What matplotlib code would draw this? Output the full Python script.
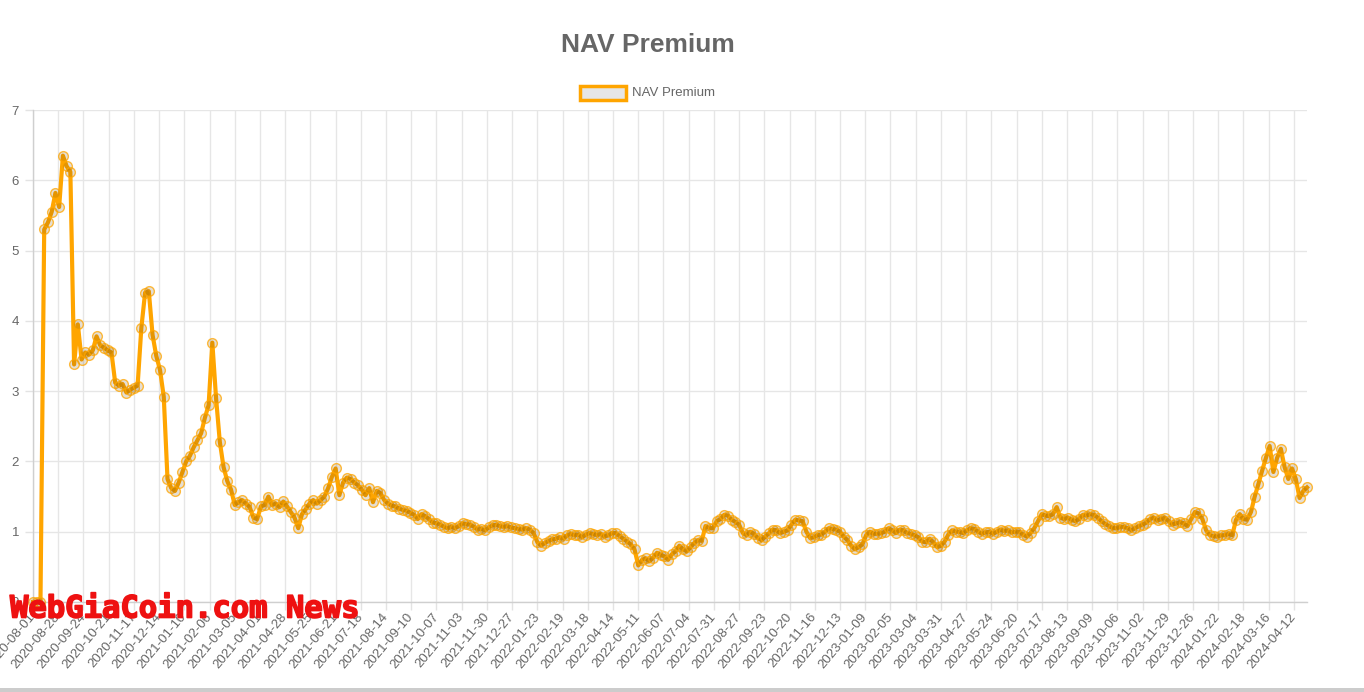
import matplotlib
matplotlib.use('Agg')
import matplotlib.pyplot as plt
import matplotlib.patheffects as pe
import pandas as pd
from matplotlib.patches import Rectangle

# ---------------- data ----------------
start_date = '2020-08-01'
sample_step = '4D'
nav_premium = [
    0, 0, 0, 5.30, 5.40, 5.55, 5.82, 5.62, 6.35, 6.20,
    6.12, 3.38, 3.95, 3.45, 3.55, 3.52, 3.58, 3.78, 3.65, 3.62,
    3.58, 3.55, 3.12, 3.08, 3.10, 2.98, 3.02, 3.05, 3.08, 3.90,
    4.40, 4.42, 3.80, 3.50, 3.30, 2.92, 1.75, 1.62, 1.58, 1.70,
    1.85, 2.00, 2.08, 2.20, 2.30, 2.40, 2.62, 2.80, 3.69, 2.90,
    2.28, 1.92, 1.72, 1.60, 1.38, 1.42, 1.45, 1.40, 1.35, 1.20,
    1.18, 1.36, 1.38, 1.50, 1.38, 1.40, 1.35, 1.43, 1.36, 1.28,
    1.20, 1.05, 1.25, 1.32, 1.40, 1.45, 1.40, 1.45, 1.50, 1.62,
    1.78, 1.90, 1.52, 1.70, 1.77, 1.75, 1.70, 1.66, 1.60, 1.52,
    1.62, 1.42, 1.58, 1.55, 1.45, 1.40, 1.37, 1.36, 1.33, 1.31,
    1.30, 1.27, 1.24, 1.18, 1.25, 1.22, 1.18, 1.13, 1.12, 1.10,
    1.07, 1.05, 1.07, 1.05, 1.08, 1.12, 1.11, 1.10, 1.07, 1.03,
    1.04, 1.02, 1.06, 1.09, 1.10, 1.08, 1.07, 1.08, 1.06, 1.05,
    1.04, 1.03, 1.05, 1.03, 0.98, 0.85, 0.80, 0.84, 0.87, 0.89,
    0.90, 0.92, 0.90, 0.95, 0.97, 0.95, 0.96, 0.92, 0.96, 0.98,
    0.97, 0.95, 0.97, 0.93, 0.95, 0.98, 0.98, 0.94, 0.90, 0.86,
    0.82, 0.75, 0.52, 0.60, 0.62, 0.58, 0.63, 0.70, 0.67, 0.65,
    0.60, 0.68, 0.72, 0.80, 0.75, 0.72, 0.78, 0.84, 0.88, 0.87,
    1.08, 1.05, 1.05, 1.15, 1.18, 1.24, 1.23, 1.17, 1.14, 1.10,
    0.98, 0.95, 1.00, 0.97, 0.91, 0.88, 0.93, 0.98, 1.03, 1.02,
    0.98, 1.00, 1.02, 1.10, 1.17, 1.16, 1.15, 1.00, 0.91, 0.92,
    0.95, 0.96, 1.00, 1.05, 1.04, 1.03, 1.00, 0.93, 0.88, 0.80,
    0.75, 0.78, 0.82, 0.95, 1.00, 0.97, 0.97, 0.98, 1.00, 1.05,
    1.02, 0.98, 1.03, 1.02, 0.98, 0.97, 0.95, 0.92, 0.86, 0.85,
    0.90, 0.85, 0.78, 0.80, 0.86, 0.96, 1.02, 1.00, 1.00, 0.98,
    1.02, 1.05, 1.04, 1.00, 0.97, 0.99, 1.00, 0.97, 1.00, 1.03,
    1.01, 1.02, 0.99, 1.00, 1.00, 0.96, 0.93, 0.98, 1.05, 1.15,
    1.25, 1.23, 1.22, 1.25, 1.35, 1.20, 1.18, 1.20, 1.17, 1.15,
    1.18, 1.24, 1.23, 1.25, 1.24, 1.20, 1.15, 1.11, 1.08, 1.05,
    1.05, 1.07, 1.07, 1.05, 1.02, 1.05, 1.08, 1.10, 1.13, 1.18,
    1.20, 1.16, 1.18, 1.20, 1.15, 1.10, 1.12, 1.14, 1.12, 1.08,
    1.18, 1.28, 1.26, 1.18, 1.02, 0.95, 0.94, 0.93, 0.95, 0.95,
    0.97, 0.95, 1.17, 1.25, 1.18, 1.17, 1.28, 1.50, 1.68, 1.87,
    2.05, 2.22, 1.85, 2.05, 2.18, 1.92, 1.75, 1.90, 1.75, 1.48,
    1.58, 1.63,
]
tick_start = '2020-08-01'
tick_end = '2024-04-12'
tick_step = '27D'
y_ticks = [0, 1, 2, 3, 4, 5, 6, 7]
title_text = 'NAV Premium'
series_label = 'NAV Premium'
watermark = 'WebGiaCoin.com News'

dates = pd.date_range(start_date, periods=len(nav_premium), freq=sample_step)
tick_dates = pd.date_range(tick_start, tick_end, freq=tick_step)
tick_labels = [d.strftime('%Y-%m-%d') for d in tick_dates]

# ---------------- figure ----------------
plt.rcParams['font.family'] = ['Liberation Sans', 'DejaVu Sans']
W, H = 1364, 692
fig = plt.figure(figsize=(W / 100, H / 100), dpi=100)
fig.patch.set_facecolor('white')

ax = fig.add_axes([33 / W, 1 - 602 / H, 1274 / W, 492 / H])
ax.plot(dates, nav_premium, color='#FFA500', lw=3, marker='o', ms=7,
        mfc=(0.45, 0.3, 0.05, 0.18), mec=(1.0, 0.65, 0.0, 0.75), mew=1,
        zorder=3, clip_on=False)

ax.set_xlim(dates[0], dates[-1])
ax.set_ylim(0, 7)
ax.set_yticks(y_ticks)
ax.set_xticks(tick_dates)
ax.set_xticklabels(tick_labels, rotation=50, ha='right', va='center',
                   rotation_mode='anchor')

ax.grid(True, color='#e6e6e6', lw=1, zorder=0)
ax.set_axisbelow(True)
for s in ['top', 'right']:
    ax.spines[s].set_visible(False)
for s in ['left', 'bottom']:
    ax.spines[s].set_color('#cfcfcf')
    ax.spines[s].set_linewidth(1)
ax.tick_params(axis='both', length=6, width=1, color='#e3e3e3',
               labelcolor='#666666', labelsize=9.5)
ax.tick_params(axis='y', pad=4)
ax.tick_params(axis='x', pad=3)

# title
fig.text(648 / W, 1 - 45 / H, title_text, ha='center', va='center',
         fontsize=19, fontweight='bold', color='#666666')

# legend (Chart.js style box)
fig.patches.append(Rectangle((580 / W, 1 - 100 / H), 46 / W, 14 / H,
                             transform=fig.transFigure, facecolor='#e6e6e6',
                             edgecolor='#FFA500', lw=2.5))
fig.text(632 / W, 1 - 92.5 / H, series_label, ha='left', va='center',
         fontsize=9.5, color='#666666')

# watermark
fig.text(10 / W, 1 - 609 / H, watermark, ha='left', va='center',
         family='DejaVu Sans Mono', fontweight='bold', fontsize=22,
         color='#ee1111', zorder=10,
         path_effects=[pe.withStroke(linewidth=1.2, foreground='#ee1111')])

# bottom gray bar
fig.patches.append(Rectangle((0, 0), 1, 4 / H, transform=fig.transFigure,
                             facecolor='#cccccc', edgecolor='none'))

fig.savefig('out.png', dpi=100)
